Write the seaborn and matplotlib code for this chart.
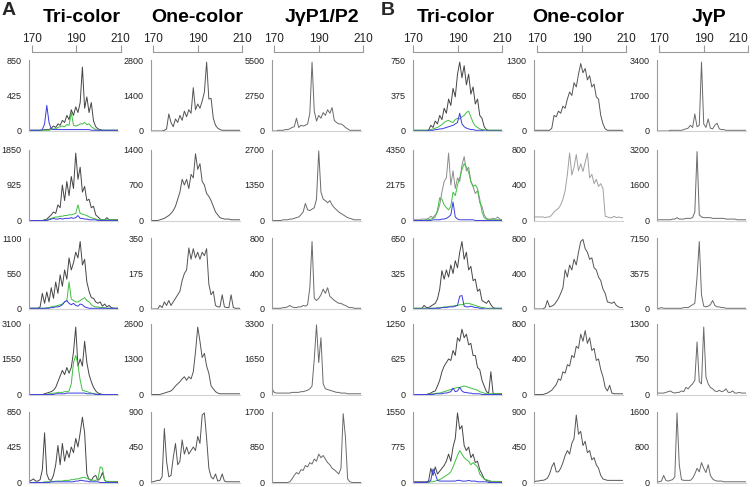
import numpy as np
import pandas as pd
import matplotlib
matplotlib.use("Agg")
import matplotlib.pyplot as plt
import seaborn as sns

# fragment size grid (bp) shared by every trace
BP = list(range(169, 210))

# trace heights, in % of each small panel's y-axis maximum
# ---- panel A ----
A_TRI_BLACK = [
    [1,1,1,1,1,1,1,2,2,2, 4,7,5,10,8,15,12,22,16,30, 22,34,26,40,90,32,48,26,40,14, 6,3,2,1,1,1,1,1,1,1, 1],
    [0,0,0,0,0,0,0,1,2,5, 8,12,10,22,18,50,28,55,35,62, 45,95,58,75,40,48,28,30,18,20, 8,5,2,1,1,4,1,1,1,1, 1],
    [1,1,1,1,1,3,22,8,24,10, 30,15,38,22,48,32,55,42,72,55, 65,80,72,95,62,70,38,25,16,15, 10,8,10,4,7,3,5,2,1,1, 1],
    [0,0,0,0,0,0,0,1,2,3, 4,6,10,18,26,34,28,38,30,38, 60,95,40,50,40,75,45,28,18,10, 5,2,1,0,0,0,0,0,0,0, 0],
    [1,3,5,2,2,4,18,70,12,4, 3,10,25,52,25,55,30,45,35,50, 42,62,50,70,92,70,12,4,3,8, 10,3,6,14,3,1,1,1,1,1, 1],
]
A_TRI_GREEN = [
    [1,1,1,1,1,1,1,1,1,1, 2,3,3,5,6,7,6,9,8,26, 8,7,8,10,10,12,9,10,6,4, 2,1,1,1,1,1,1,1,1,1, 1],
    [0,0,0,0,0,0,0,0,1,2, 3,4,5,5,6,6,7,7,8,8, 9,10,22,10,9,8,7,5,4,3, 2,1,1,1,1,1,1,1,1,1, 1],
    [1,1,1,1,1,1,1,1,2,2, 3,4,4,5,6,7,10,12,38,14, 12,10,10,12,14,16,12,10,6,4, 3,3,2,2,2,1,1,1,1,1, 1],
    [0,0,0,0,0,0,0,0,0,1, 1,2,2,3,3,3,4,4,5,15, 45,55,42,20,6,5,4,3,2,1, 1,0,0,0,0,0,0,0,0,0, 0],
    [0,0,0,0,0,0,0,1,1,1, 1,1,2,2,2,2,3,3,3,4, 4,5,5,6,7,7,6,5,4,3, 3,5,22,20,3,1,1,1,1,1, 1],
]
A_TRI_BLUE = [
    [1,1,1,1,1,1,2,10,36,12, 3,2,2,2,2,2,2,2,2,2, 2,2,2,2,2,2,2,2,1,1, 1,1,1,1,1,1,1,1,1,1, 1],
    [0,0,0,0,0,0,0,0,0,1, 2,3,2,2,3,2,3,3,3,4, 3,4,7,3,3,2,2,1,1,1, 1,0,0,0,0,0,0,0,0,0, 0],
    [1,1,1,1,1,1,1,1,1,1, 2,2,3,3,4,6,10,12,8,6, 8,5,4,7,6,3,2,1,1,1, 1,1,1,1,1,1,1,1,1,1, 1],
    [0,0,0,0,0,0,0,0,0,0, 0,0,1,1,1,1,1,2,2,2, 2,2,2,2,2,2,1,1,1,1, 0,0,0,0,0,0,0,0,0,0, 0],
    [0,0,0,0,0,0,0,0,0,0, 1,1,1,1,1,1,1,1,1,1, 1,2,2,3,3,2,2,1,1,1, 1,1,0,0,0,0,0,0,0,0, 0],
]
A_ONE = [
    [0,0,0,0,0,0,1,3,24,12, 6,17,12,22,15,28,20,30,25,61, 30,38,32,42,55,97,45,46,18,8, 4,2,1,1,1,1,1,1,1,1, 1],
    [0,0,0,0,1,2,3,5,7,10, 14,20,30,40,58,50,58,45,65,60, 94,72,80,55,50,38,34,28,20,12, 8,4,3,2,2,2,1,1,1,1, 1],
    [0,0,0,0,5,2,10,5,12,5, 10,15,20,25,40,50,55,86,70,85, 72,80,70,80,75,85,35,20,25,5, 3,3,20,3,2,2,20,2,1,1, 1],
    [0,0,0,0,0,1,2,3,4,5, 8,12,15,18,22,25,20,25,22,32, 60,95,75,52,58,40,30,12,8,4, 2,1,1,1,1,1,1,1,1,1, 1],
    [1,1,2,3,3,8,76,30,8,10, 35,55,25,30,60,40,50,40,45,50, 45,65,55,95,98,62,20,8,5,12, 2,3,12,2,1,1,1,1,1,1, 1],
]
A_J = [
    [0,0,0,1,1,1,2,2,3,5, 6,18,5,8,7,8,10,25,97,28, 14,22,18,26,22,30,25,33,15,12, 10,10,8,5,3,1,1,1,1,1, 1],
    [0,0,0,0,0,1,1,1,2,2, 3,4,5,8,12,24,15,14,16,18, 30,98,40,30,28,25,28,22,18,15, 12,10,8,6,4,3,2,1,1,1, 1],
    [1,1,1,1,1,2,2,3,5,3, 2,2,3,3,5,4,6,30,95,15, 12,15,20,28,22,30,18,15,12,10, 8,8,6,5,3,2,2,1,1,1, 1],
    [8,3,2,2,2,2,2,2,2,3, 3,3,3,4,4,5,6,8,12,50, 98,45,80,15,8,7,6,5,4,3, 3,2,2,2,1,1,1,1,1,1, 1],
    [0,0,0,0,0,0,0,0,1,5, 10,14,12,18,17,24,22,28,26,33, 30,40,35,38,33,28,25,20,18,15, 12,20,97,64,5,1,0,0,0,0, 0],
]
# ---- panel B ----
B_TRI_BLACK = [
    [1,1,1,1,1,1,1,1,8,5, 14,10,22,16,32,25,45,36,60,48, 80,97,75,92,65,80,52,62,38,45, 22,18,6,2,1,1,1,1,1,1, 1],
    [1,1,1,1,2,2,2,3,6,4, 8,12,22,40,55,60,95,50,70,45, 60,55,78,90,70,75,55,48,38,42, 25,20,8,3,2,2,3,2,5,2, 1],
    [1,1,1,1,1,5,2,2,4,6, 8,14,28,54,42,55,45,62,50,68, 58,80,95,70,80,55,60,40,42,25, 28,12,10,8,12,6,2,1,1,1, 1],
    [0,0,0,0,0,0,0,1,2,4, 5,12,20,32,40,45,50,48,62,55, 80,75,92,80,85,70,72,55,55,38, 35,20,12,4,2,32,1,1,1,1, 1],
    [1,1,1,1,1,1,1,2,20,10, 22,12,16,20,24,30,40,30,50,62, 98,75,80,52,45,50,35,40,28,30, 18,12,5,3,2,1,1,1,1,1, 1],
]
B_TRI_GREEN = [
    [1,1,1,1,1,1,1,1,2,3, 4,5,7,9,12,14,15,13,12,16, 18,17,20,22,26,28,20,12,7,5, 3,2,2,1,1,1,1,1,1,1, 1],
    [0,0,0,0,0,0,1,1,2,3, 5,15,32,30,22,18,15,20,40,35, 50,60,72,80,75,68,55,48,50,45, 30,12,4,2,1,1,1,1,1,1, 1],
    [1,1,1,1,1,1,1,1,1,1, 1,2,2,2,3,3,3,4,4,5, 5,6,6,7,8,8,7,6,5,4, 3,2,2,1,1,1,1,1,1,1, 1],
    [0,0,0,0,0,0,0,0,1,1, 1,2,2,3,4,5,6,7,8,9, 10,10,11,12,11,10,9,8,7,6, 4,3,2,1,1,1,1,1,1,1, 1],
    [0,0,0,0,0,0,0,0,1,1, 2,3,4,6,8,10,12,15,22,30, 38,45,40,35,32,30,25,28,25,22, 12,8,5,4,3,2,1,1,1,1, 1],
]
B_TRI_BLUE = [
    [0,0,0,0,0,0,0,1,1,1, 2,2,3,3,4,5,6,7,8,10, 12,25,10,6,4,3,2,2,1,1, 1,1,0,0,0,0,0,0,0,0, 0],
    [0,0,0,0,0,0,0,0,0,1, 1,1,1,2,2,3,5,8,26,5, 2,1,1,1,1,1,1,1,0,0, 0,0,0,0,0,0,0,0,0,0, 0],
    [0,0,0,0,0,0,0,0,1,1, 1,1,1,2,2,2,3,3,3,4, 5,18,19,4,3,3,4,3,2,2, 1,1,0,0,0,0,0,0,0,0, 0],
    [0,0,0,0,0,0,0,0,0,0, 1,1,1,1,2,2,3,4,9,4, 5,10,5,3,3,2,2,1,1,1, 1,0,0,0,0,0,0,0,0,0, 0],
    [0,0,0,0,0,0,0,1,3,19, 12,3,2,2,2,2,2,2,2,2, 3,3,2,2,2,3,2,2,2,1, 1,1,1,1,0,0,0,0,0,0, 0],
]
B_ONE = [
    [1,1,1,1,1,1,1,1,4,22, 20,28,25,35,32,45,55,50,68,62, 80,95,82,88,72,78,62,66,48,45, 22,10,3,1,1,1,1,1,1,1, 1],
    [5,5,5,5,5,4,5,5,8,12, 15,17,22,30,42,65,95,64,75,93, 70,80,69,82,95,60,65,52,58,48, 52,45,6,5,4,4,6,4,5,4, 4],
    [0,0,0,0,0,2,12,3,4,6, 10,15,22,30,55,45,62,55,70,62, 80,95,98,85,80,70,72,58,55,45, 40,28,22,10,9,8,10,5,3,2, 2],
    [0,0,0,0,0,1,2,4,6,10, 14,22,20,32,30,42,40,55,52,68, 65,85,75,90,72,80,62,65,48,50, 35,25,10,5,13,2,1,1,1,1, 1],
    [1,2,2,3,3,4,6,12,22,28, 15,15,20,28,38,45,40,55,62,95, 68,72,52,58,42,45,32,35,25,20, 10,5,4,3,3,3,3,3,3,3, 3],
]
B_J = [
    [0,0,0,0,0,0,1,1,1,1, 1,1,2,3,4,8,5,24,6,8, 97,10,5,17,4,3,8,11,3,2, 2,1,1,1,1,1,1,1,1,1, 1],
    [1,1,1,1,1,1,1,2,2,4, 2,2,2,3,3,3,4,12,97,8, 5,4,4,4,4,3,3,3,3,3, 3,2,2,2,2,2,1,1,1,1, 1],
    [0,1,2,1,1,1,1,1,1,1, 1,1,2,2,2,4,6,8,45,95, 20,4,3,4,6,12,5,3,3,2, 2,1,1,1,1,1,1,1,1,1, 1],
    [2,2,2,2,3,4,5,3,2,3, 3,5,4,10,8,12,15,20,74,18, 15,95,25,15,10,8,5,4,6,4, 5,8,3,3,5,2,2,3,2,2, 2],
    [1,1,2,10,3,2,3,4,8,98, 25,4,3,3,3,3,6,12,20,15, 28,20,14,25,10,5,3,2,2,2, 1,1,1,1,1,1,1,1,1,1, 1],
]

# y-axis top value and the middle tick label of every small panel
A_TRI_MAX = [850, 1850, 1100, 3100, 850]
A_TRI_MID = ["425", "925", "550", "1550", "425"]
A_ONE_MAX = [2800, 1400, 350, 2600, 900]
A_ONE_MID = ["1400", "700", "175", "1300", "450"]
A_J_MAX = [5500, 2700, 800, 3300, 1700]
A_J_MID = ["2750", "1350", "400", "1650", "850"]
B_TRI_MAX = [750, 4350, 650, 1250, 1550]
B_TRI_MID = ["375", "2175", "325", "625", "775"]
B_ONE_MAX = [1300, 800, 800, 800, 900]
B_ONE_MID = ["650", "400", "400", "400", "450"]
B_J_MAX = [3400, 3200, 7150, 1300, 1600]
B_J_MID = ["1700", "1600", "3575", "750", "800"]

SCALE_TICKS = [170, 190, 210]
TITLES_A = ["Tri-color", "One-color", "J\u03b3P1/P2"]
TITLES_B = ["Tri-color", "One-color", "J\u03b3P"]

# ---- layout (pixels) ----
W, H = 753, 487
PW, PH = 89, 71
COL_LEFT = [29, 151, 272, 413, 534, 657]
SCALE_LEFT = [31.5, 153, 274, 413, 537, 659]
ROW_TOP = [60, 149.5, 238, 323.5, 411.5]
TITLE_X = [82, 197, 322, 456, 578, 709]

DARK = "#454545"
GREEN = "#3fbf3f"
BLUE = "#3a3ae0"
AXC = "#9a9a9a"

sns.set_style("white")
plt.rcParams["font.family"] = ["Liberation Sans", "DejaVu Sans"]

fig = plt.figure(figsize=(W / 100, H / 100), dpi=100)


def draw_panel(left, top, traces, ymax, mid):
    ax = fig.add_axes([left / W, 1 - (top + PH) / H, PW / W, PH / H])
    for vals, color in traces:
        df = pd.DataFrame({"bp": BP, "rfu": np.array(vals) / 100 * ymax})
        sns.lineplot(data=df, x="bp", y="rfu", ax=ax, color=color,
                     linewidth=0.7, estimator=None)
    ax.set_xlim(169, 209)
    ax.set_ylim(0, ymax)
    ax.set_xticks([])
    ax.set_yticks([0, ymax / 2, ymax])
    ax.set_yticklabels(["0", mid, str(ymax)])
    ax.set_xlabel("")
    ax.set_ylabel("")
    ax.spines["top"].set_visible(False)
    ax.spines["right"].set_visible(False)
    ax.spines["left"].set_color(AXC)
    ax.spines["left"].set_linewidth(0.8)
    ax.spines["bottom"].set_color("#d2d2d2")
    ax.spines["bottom"].set_linewidth(0.8)
    ax.tick_params(axis="y", length=5, width=0.7, color=AXC, pad=0.5,
                   labelsize=6.5, labelcolor="#222222")
    ax.patch.set_alpha(0)


def draw_scale(left, last_right=False):
    ax = fig.add_axes([left / W, 1 - 52 / H, PW / W, 7 / H])
    ax.set_xlim(170, 210)
    ax.set_xticks(SCALE_TICKS)
    ax.set_xticklabels([str(t) for t in SCALE_TICKS])
    ax.set_yticks([])
    for s in ["left", "right", "top"]:
        ax.spines[s].set_visible(False)
    ax.spines["bottom"].set_color(AXC)
    ax.spines["bottom"].set_linewidth(0.8)
    ax.tick_params(axis="x", direction="in", length=5, width=0.8, color=AXC,
                   bottom=True, top=False, labelbottom=False, labeltop=True,
                   labelsize=8.5, pad=0, labelcolor="#222222")
    if last_right:
        # the rightmost label sits against the figure edge
        ax.get_xticklabels()[-1].set_horizontalalignment("right")
    ax.patch.set_alpha(0)


groups = [
    (0, [(A_TRI_BLACK, DARK), (A_TRI_GREEN, GREEN), (A_TRI_BLUE, BLUE)], A_TRI_MAX, A_TRI_MID),
    (1, [(A_ONE, "#555555")], A_ONE_MAX, A_ONE_MID),
    (2, [(A_J, "#6a6a6a")], A_J_MAX, A_J_MID),
    (3, [(B_TRI_BLACK, DARK), (B_TRI_GREEN, GREEN), (B_TRI_BLUE, BLUE)], B_TRI_MAX, B_TRI_MID),
    (4, [(B_ONE, "#555555")], B_ONE_MAX, B_ONE_MID),
    (5, [(B_J, "#6a6a6a")], B_J_MAX, B_J_MID),
]

for col, series, ymaxes, mids in groups:
    draw_scale(SCALE_LEFT[col], last_right=(col == 5))
    for r in range(5):
        traces = []
        for data, color in series:
            c = color
            # second row of panel B is drawn in a paler grey
            if col in (3, 4) and r == 1 and color != GREEN and color != BLUE:
                c = "#8c8c8c" if col == 3 else "#a0a0a0"
            traces.append((data[r], c))
        draw_panel(COL_LEFT[col], ROW_TOP[r], traces, ymaxes[r], mids[r])

for i, t in enumerate(TITLES_A + TITLES_B):
    fig.text(TITLE_X[i] / W, 1 - 21.7 / H, t, ha="center", va="baseline",
             fontsize=14, fontweight="bold", color="black")

fig.text(1.5 / W, 1 - 15 / H, "A", ha="left", va="baseline", fontsize=14, fontweight="bold")
fig.text(381 / W, 1 - 15 / H, "B", ha="left", va="baseline", fontsize=14, fontweight="bold")

fig.savefig("out.png", dpi=100)
